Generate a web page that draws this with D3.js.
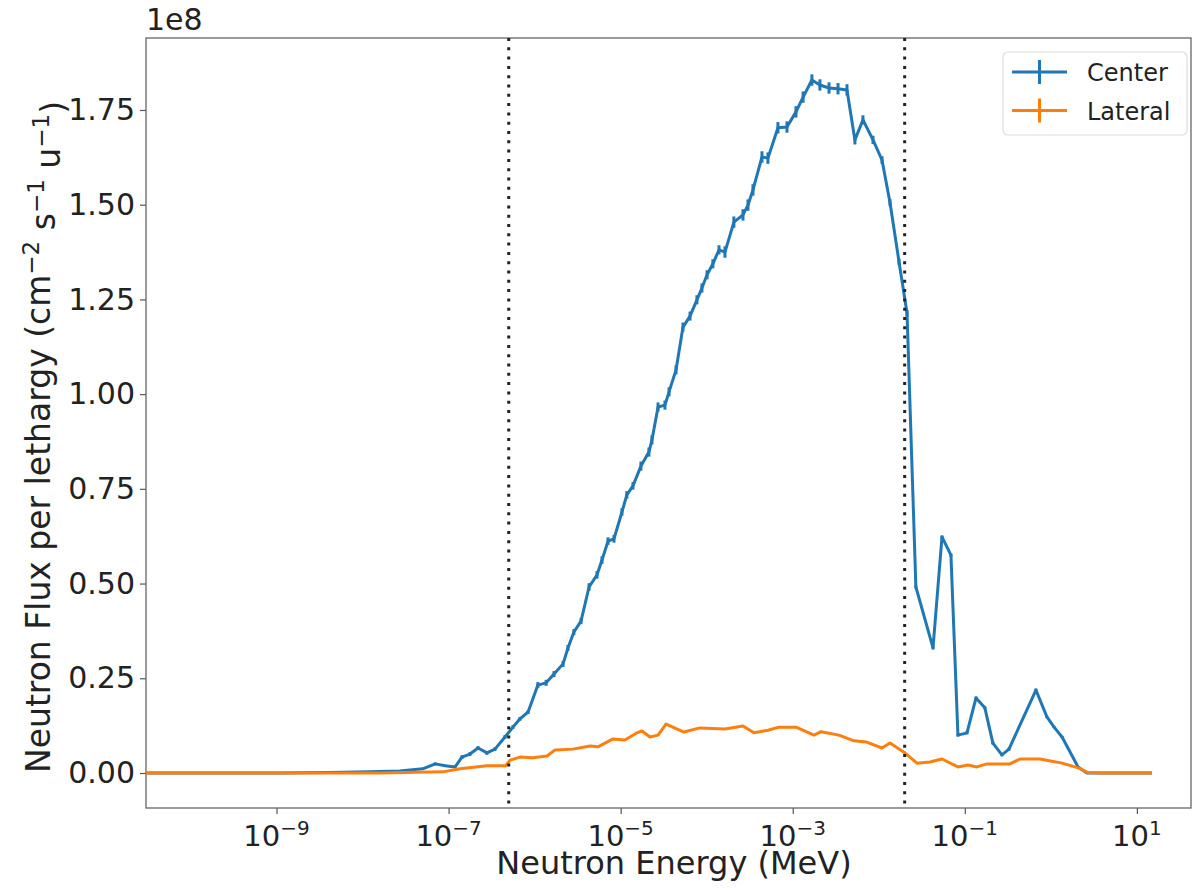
<!DOCTYPE html>
<html>
<head>
<meta charset="utf-8">
<script src="https://cdn.jsdelivr.net/npm/d3@7"></script>
<style>
  body { margin: 0; background: #fff; }
  text { font-family: "DejaVu Sans", sans-serif; fill: #222; }
</style>
</head>
<body>
<div id="chart"></div>
<script>
// frame size
const FRAME_WIDTH = 1200;
const FRAME_HEIGHT = 892;
const MARGINS = {left: 146, right: 9, top: 38, bottom: 84};

// data (flux in units of 1e8)
const energyCenter = [3.0e-11, 2.2e-10, 1.1e-9, 4.2e-9, 1.2e-8, 2.7e-8, 5.0e-8, 7.0e-8, 9.1e-8, 1.19e-7,
  1.43e-7, 1.77e-7, 2.2e-7, 2.79e-7, 3.46e-7, 4.52e-7, 5.6e-7, 6.76e-7, 8.4e-7, 1.09e-6,
  1.36e-6, 1.68e-6, 2.14e-6, 2.44e-6, 2.86e-6, 3.46e-6, 4.29e-6, 5.31e-6, 6.07e-6, 7.13e-6,
  8.36e-6, 1.035e-5, 1.18e-5, 1.39e-5, 1.72e-5, 2.13e-5, 2.31e-5, 2.72e-5, 3.27e-5, 3.65e-5,
  4.4e-5, 5.3e-5, 6.4e-5, 7.7e-5, 8.8e-5, 1.01e-4, 1.18e-4, 1.39e-4, 1.63e-4, 2.07e-4,
  2.64e-4, 3.02e-4, 3.45e-4, 4.39e-4, 5.15e-4, 6.73e-4, 8.57e-4, 1.09e-3, 1.32e-3, 1.67e-3,
  2.07e-3, 2.64e-3, 3.36e-3, 4.27e-3, 5.28e-3, 6.55e-3, 8.57e-3, 1.09e-2, 1.35e-2, 1.72e-2,
  2.13e-2, 2.70e-2, 4.27e-2, 5.43e-2, 6.90e-2, 8.32e-2, 1.06e-1, 1.35e-1, 1.71e-1, 2.12e-1,
  2.70e-1, 3.26e-1, 6.71e-1, 9.0e-1, 1.09, 1.35, 2.07, 2.63, 4.86, 15];
const fluxCenter = [0, 0, 0, 0.001, 0.003, 0.005, 0.011, 0.024, 0.019, 0.016,
  0.042, 0.050, 0.066, 0.053, 0.063, 0.095, 0.121, 0.143, 0.161, 0.232,
  0.238, 0.261, 0.288, 0.330, 0.372, 0.401, 0.491, 0.523, 0.562, 0.612,
  0.618, 0.689, 0.734, 0.758, 0.810, 0.847, 0.879, 0.966, 0.971, 1.006,
  1.064, 1.177, 1.206, 1.249, 1.280, 1.315, 1.344, 1.381, 1.375, 1.454,
  1.473, 1.499, 1.539, 1.626, 1.623, 1.703, 1.705, 1.745, 1.784, 1.829,
  1.816, 1.808, 1.806, 1.803, 1.671, 1.724, 1.671, 1.618, 1.506, 1.349,
  1.214, 0.491, 0.330, 0.623, 0.575, 0.100, 0.106, 0.198, 0.172, 0.079,
  0.048, 0.063, 0.219, 0.148, 0.121, 0.095, 0.016, 0, 0, 0];
const errCenter = [0, 0, 0, 0, 0, 0, 0.002, 0.004, 0.003, 0.003,
  0.005, 0.005, 0.005, 0.005, 0.005, 0.005, 0.005, 0.005, 0.005, 0.008,
  0.008, 0.008, 0.008, 0.008, 0.008, 0.008, 0.010, 0.010, 0.010, 0.010,
  0.010, 0.010, 0.010, 0.010, 0.012, 0.012, 0.012, 0.012, 0.012, 0.012,
  0.012, 0.012, 0.012, 0.012, 0.012, 0.012, 0.012, 0.012, 0.015, 0.015,
  0.015, 0.015, 0.015, 0.015, 0.015, 0.015, 0.015, 0.015, 0.015, 0.015,
  0.015, 0.015, 0.015, 0.015, 0.012, 0.012, 0.011, 0.010, 0.009, 0.008,
  0.008, 0.004, 0.004, 0.004, 0.004, 0.004, 0.004, 0.004, 0.004, 0.004,
  0.004, 0.004, 0.004, 0.003, 0.003, 0.003, 0.002, 0, 0, 0];

const energyLateral = [3.0e-11, 1.87e-9, 1.6e-8, 8.6e-8, 1.36e-7, 2.79e-7, 4.6e-7, 5.2e-7, 6.76e-7, 9.57e-7,
  1.39e-6, 1.73e-6, 2.79e-6, 4.4e-6, 5.44e-6, 8.15e-6, 1.12e-5, 1.55e-5, 1.77e-5, 2.19e-5,
  2.72e-5, 3.37e-5, 5.44e-5, 8.36e-5, 1.63e-4, 2.64e-4, 3.55e-4, 5.15e-4, 6.92e-4, 1.09e-3,
  1.77e-3, 2.13e-3, 3.44e-3, 5.15e-3, 7.1e-3, 1.09e-2, 1.35e-2, 1.96e-2, 2.78e-2, 3.94e-2,
  5.43e-2, 8.32e-2, 1.09e-1, 1.38e-1, 1.81e-1, 3.35e-1, 4.38e-1, 7.48e-1, 1.35, 2.12,
  2.70, 3.72, 15];
const fluxLateral = [0, 0, 0, 0.003, 0.011, 0.019, 0.019, 0.034, 0.042, 0.040,
  0.045, 0.061, 0.063, 0.071, 0.069, 0.090, 0.087, 0.106, 0.111, 0.095,
  0.100, 0.129, 0.108, 0.119, 0.116, 0.124, 0.106, 0.113, 0.121, 0.121,
  0.100, 0.109, 0.100, 0.085, 0.082, 0.066, 0.079, 0.055, 0.026, 0.029,
  0.037, 0.016, 0.021, 0.016, 0.024, 0.024, 0.037, 0.037, 0.026, 0.013,
  0.001, 0, 0];
const errLateral = [0, 0, 0, 0.001, 0.001, 0.001, 0.001, 0.001, 0.001, 0.001,
  0.002, 0.002, 0.002, 0.002, 0.002, 0.002, 0.002, 0.002, 0.002, 0.002,
  0.002, 0.002, 0.002, 0.002, 0.002, 0.002, 0.002, 0.002, 0.002, 0.002,
  0.002, 0.002, 0.002, 0.002, 0.002, 0.002, 0.002, 0.002, 0.001, 0.001,
  0.001, 0.001, 0.001, 0.001, 0.001, 0.001, 0.001, 0.001, 0.001, 0.001,
  0, 0, 0];

const seriesNames = ["Center", "Lateral"];
const seriesColors = ["#1f77b4", "#ff7f0e"];
const cutoffEnergies = [5e-7, 2e-2];
const xTickValues = [1e-9, 1e-7, 1e-5, 1e-3, 1e-1, 1e1];
const xTickExponents = ["\u22129", "\u22127", "\u22125", "\u22123", "\u22121", "1"];
const yTickValues = [0, 0.25, 0.5, 0.75, 1.0, 1.25, 1.5, 1.75];

const W = FRAME_WIDTH - MARGINS.left - MARGINS.right;
const H = FRAME_HEIGHT - MARGINS.top - MARGINS.bottom;

const svg = d3.select("#chart")
  .append("svg")
  .attr("width", FRAME_WIDTH)
  .attr("height", FRAME_HEIGHT);

const xScale = d3.scaleLog()
  .domain([Math.pow(10, -10.517), Math.pow(10, 1.629)])
  .range([MARGINS.left, MARGINS.left + W]);

const yScale = d3.scaleLinear()
  .domain([-0.0924, 1.940])
  .range([MARGINS.top + H, MARGINS.top]);

svg.append("clipPath").attr("id", "plotclip")
  .append("rect")
  .attr("x", MARGINS.left).attr("y", MARGINS.top)
  .attr("width", W).attr("height", H);

// axes
const xAxis = d3.axisBottom(xScale).tickValues(xTickValues).tickSize(6).tickFormat("");
const gx = svg.append("g")
  .attr("transform", "translate(0," + (MARGINS.top + H) + ")")
  .call(xAxis);
gx.select(".domain").remove();
gx.selectAll(".tick line").attr("stroke", "#555").attr("stroke-width", 1.2);

xTickValues.forEach(function(v, i) {
  const t = svg.append("text")
    .attr("x", xScale(v))
    .attr("y", MARGINS.top + H + 38)
    .attr("text-anchor", "middle")
    .style("font-size", "29px");
  t.append("tspan").text("10");
  t.append("tspan")
    .attr("dy", "-0.55em")
    .style("font-size", "20px")
    .text(xTickExponents[i]);
});

const yAxis = d3.axisLeft(yScale).tickValues(yTickValues).tickSize(6).tickPadding(5)
  .tickFormat(d3.format(".2f"));
const gy = svg.append("g")
  .attr("transform", "translate(" + MARGINS.left + ",0)")
  .call(yAxis);
gy.select(".domain").remove();
gy.selectAll(".tick line").attr("stroke", "#555").attr("stroke-width", 1.2);
gy.selectAll(".tick text")
  .style("font-family", "DejaVu Sans")
  .style("font-size", "30px")
  .attr("fill", "#222");

// frame
svg.append("rect")
  .attr("x", MARGINS.left).attr("y", MARGINS.top)
  .attr("width", W).attr("height", H)
  .attr("fill", "none")
  .attr("stroke", "#666")
  .attr("stroke-width", 1.3);

// offset label
svg.append("text")
  .attr("x", MARGINS.left)
  .attr("y", 30)
  .style("font-size", "30px")
  .text("1e8");

// axis labels
svg.append("text")
  .attr("x", 674)
  .attr("y", 874)
  .attr("text-anchor", "middle")
  .style("font-size", "32px")
  .text("Neutron Energy (MeV)");

const yl = svg.append("text")
  .attr("transform", "translate(50,437) rotate(-90)")
  .attr("text-anchor", "middle")
  .style("font-size", "33px");
yl.append("tspan").text("Neutron Flux per lethargy (cm");
yl.append("tspan").attr("dy", "-0.5em").style("font-size", "23px").text("\u22122");
yl.append("tspan").attr("dy", "0.5em").text(" s");
yl.append("tspan").attr("dy", "-0.5em").style("font-size", "23px").text("\u22121");
yl.append("tspan").attr("dy", "0.5em").text(" u");
yl.append("tspan").attr("dy", "-0.5em").style("font-size", "23px").text("\u22121");
yl.append("tspan").attr("dy", "0.5em").text(")");

// series
const series = [
  {name: seriesNames[0], color: seriesColors[0], data: energyCenter.map((e, i) => ({e: e, f: fluxCenter[i], s: errCenter[i]}))},
  {name: seriesNames[1], color: seriesColors[1], data: energyLateral.map((e, i) => ({e: e, f: fluxLateral[i], s: errLateral[i]}))}
];

const line = d3.line()
  .x(d => xScale(d.e))
  .y(d => yScale(d.f));

const plot = svg.append("g").attr("clip-path", "url(#plotclip)");

series.forEach(function(s) {
  plot.append("path")
    .datum(s.data)
    .attr("d", line)
    .attr("fill", "none")
    .attr("stroke", s.color)
    .attr("stroke-width", 3)
    .attr("stroke-linejoin", "round");

  plot.selectAll(null)
    .data(s.data.filter(d => d.s > 0))
    .enter()
    .append("line")
      .attr("x1", d => xScale(d.e))
      .attr("x2", d => xScale(d.e))
      .attr("y1", d => yScale(d.f - d.s))
      .attr("y2", d => yScale(d.f + d.s))
      .attr("stroke", s.color)
      .attr("stroke-width", 3);
});

// cutoff lines
plot.selectAll(".cutoff")
  .data(cutoffEnergies)
  .enter()
  .append("line")
    .attr("class", "cutoff")
    .attr("x1", d => xScale(d))
    .attr("x2", d => xScale(d))
    .attr("y1", MARGINS.top)
    .attr("y2", MARGINS.top + H)
    .attr("stroke", "#222")
    .attr("stroke-width", 3)
    .attr("stroke-dasharray", "3,6.3");

// legend
const legend = svg.append("g");
legend.append("rect")
  .attr("x", 1003).attr("y", 52)
  .attr("width", 184).attr("height", 83)
  .attr("rx", 5)
  .attr("fill", "#fff")
  .attr("fill-opacity", 0.8)
  .attr("stroke", "#ddd")
  .attr("stroke-width", 1.2);

series.forEach(function(s, i) {
  const ly = 72 + i * 38.5;
  legend.append("line")
    .attr("x1", 1012).attr("x2", 1067)
    .attr("y1", ly).attr("y2", ly)
    .attr("stroke", s.color).attr("stroke-width", 3);
  legend.append("line")
    .attr("x1", 1039.5).attr("x2", 1039.5)
    .attr("y1", ly - 12).attr("y2", ly + 12)
    .attr("stroke", s.color).attr("stroke-width", 3);
  legend.append("text")
    .attr("x", 1087)
    .attr("y", ly + 9)
    .style("font-size", "24px")
    .text(s.name);
});
</script>
</body>
</html>
